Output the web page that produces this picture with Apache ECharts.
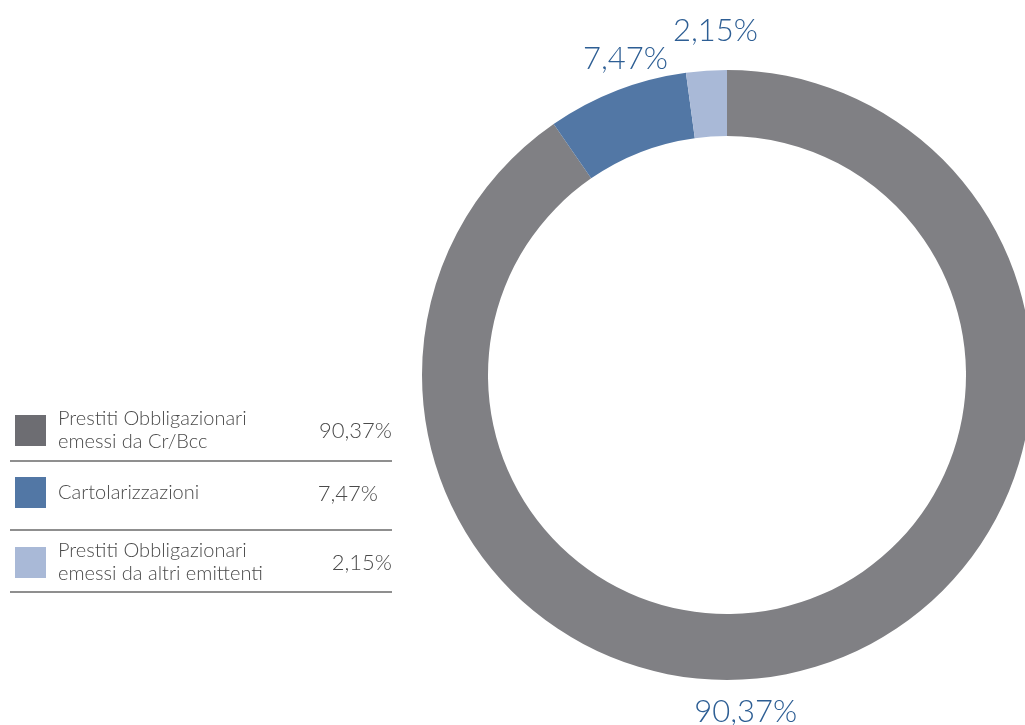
<!DOCTYPE html>
<html>
<head>
<meta charset="utf-8">
<script src="https://cdn.jsdelivr.net/npm/echarts@6/dist/echarts.min.js"></script>
<style>
  html, body { margin: 0; padding: 0; background: #fff; }
  #main { width: 1025px; height: 725px; }
</style>
</head>
<body>
<div id="main"></div>
<script>
// dati
var categories = [
  'Prestiti Obbligazionari\nemessi da Cr/Bcc',
  'Cartolarizzazioni',
  'Prestiti Obbligazionari\nemessi da altri emittenti'
];
var values = [90.37, 7.47, 2.15];
var sliceColors = ['#808084', '#5277a5', '#a9b9d7'];
var legendColors = ['#6d6d72', '#5277a5', '#a9b9d7'];

var FONT = 'Lato, "Noto Sans", sans-serif';

function fmt(v) {
  return v.toFixed(2).replace('.', ',') + '%';
}

var chartDom = document.getElementById('main');
var myChart = echarts.init(chartDom);

var legendTops = [404, 472, 536];
var legends = categories.map(function (name, i) {
  return {
    orient: 'vertical',
    left: 10,
    top: legendTops[i],
    selectedMode: false,
    itemWidth: 31,
    itemHeight: 31,
    itemGap: 0,
    icon: 'rect',
    data: [{ name: name, itemStyle: { color: legendColors[i] } }],
    formatter: function (n) {
      return '{n|' + n + '}';
    },
    textStyle: {
      rich: {
        n: {
          fontFamily: FONT,
          fontSize: 20,
          fontWeight: 300,
          lineHeight: 23,
          color: '#4a4a4a',
          width: 250,
          padding: [0, 0, 0, 7]
        }
      }
    }
  };
});

// linee separatrici e valori della legenda
var lineYs = [461, 530, 592];
var valueYs = [431, 494, 563];
var valueRight = [392, 378, 392];
var graphics = [];
lineYs.forEach(function (y) {
  graphics.push({
    type: 'line',
    shape: { x1: 10, y1: y, x2: 392, y2: y },
    style: { stroke: '#6a6a6a', lineWidth: 1.5 }
  });
});
values.forEach(function (v, i) {
  graphics.push({
    type: 'text',
    x: valueRight[i],
    y: valueYs[i],
    style: {
      text: fmt(v),
      fontFamily: FONT,
      fontSize: 22,
      fontWeight: 300,
      fill: '#4a4a4a',
      align: 'right',
      verticalAlign: 'middle'
    }
  });
});

// spostamento delle etichette esterne
var labelShift = [[-131, 38], [59, -24], [57, -32]];

var option = {
  backgroundColor: '#fff',
  animation: false,
  legend: legends,
  graphic: graphics,
  series: [
    {
      type: 'pie',
      center: [727, 375],
      radius: [239, 305],
      startAngle: 90,
      clockwise: true,
      avoidLabelOverlap: false,
      label: {
        show: true,
        position: 'outside',
        formatter: function (p) { return fmt(p.value); },
        fontFamily: FONT,
        fontSize: 31,
        fontWeight: 300,
        color: '#2d5e94'
      },
      labelLine: { show: false, length: 8, length2: 0 },
      labelLayout: function (p) {
        var s = labelShift[p.dataIndex];
        return { dx: s[0], dy: s[1] };
      },
      emphasis: { disabled: true },
      data: categories.map(function (c, i) {
        return { name: c, value: values[i], itemStyle: { color: sliceColors[i] } };
      })
    }
  ]
};

option && myChart.setOption(option);
</script>
</body>
</html>
